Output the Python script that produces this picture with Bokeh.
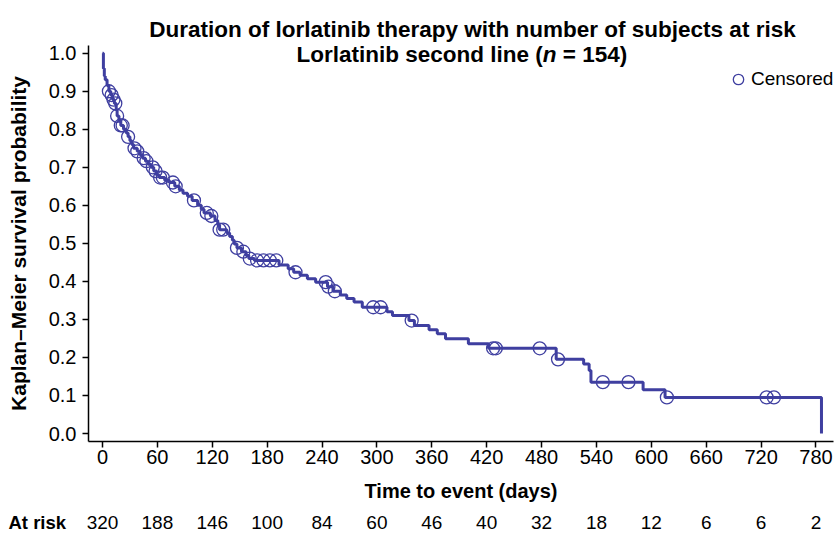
from bokeh.plotting import figure
from bokeh.models import (Range1d, FixedTicker, NumeralTickFormatter, Label, LabelSet,
                          ColumnDataSource, Legend, LegendItem)
from bokeh.core.properties import value
from bokeh.embed import file_html
from bokeh.resources import INLINE

# ---- data ----
step_days = [0, 1, 2, 3, 5, 7, 9, 11, 13, 15, 16, 18, 20, 23, 26, 28, 30, 32, 34, 38, 41, 44, 47,
             50, 53, 56, 59, 62, 68, 73, 79, 84, 88, 93, 98, 104, 108, 111, 118, 123, 126, 128,
             136, 139, 142, 144, 147, 152, 157, 160, 166, 193, 203, 209, 216, 224, 233, 246, 252,
             260, 267, 275, 284, 311, 317, 335, 341, 357, 366, 375, 400, 422, 496, 526, 532, 534,
             591, 615, 786]
step_surv = [1.0, 0.96, 0.94, 0.93, 0.915, 0.90, 0.89, 0.878, 0.868, 0.85, 0.835, 0.822, 0.81,
             0.80, 0.79, 0.78, 0.77, 0.76, 0.75, 0.742, 0.733, 0.724, 0.716, 0.708, 0.70, 0.69,
             0.68, 0.673, 0.666, 0.66, 0.65, 0.64, 0.632, 0.624, 0.613, 0.60, 0.59, 0.58, 0.572,
             0.56, 0.548, 0.536, 0.527, 0.518, 0.508, 0.498, 0.488, 0.478, 0.468, 0.46, 0.455,
             0.443, 0.433, 0.424, 0.416, 0.407, 0.398, 0.386, 0.374, 0.364, 0.355, 0.346, 0.332,
             0.32, 0.31, 0.297, 0.284, 0.273, 0.262, 0.249, 0.236, 0.224, 0.195, 0.183, 0.166,
             0.135, 0.115, 0.095, 0.0]

cens_days = [7, 10, 12, 14, 16, 20, 22, 28, 35, 38, 45, 48, 55, 58, 63, 66, 77, 80, 100, 114, 119,
             128, 132, 147, 154, 161, 169, 176, 183, 190, 211, 244, 247, 254, 296, 304, 338, 427,
             430, 478, 498, 547, 575, 617, 726, 734]
cens_surv = [0.90, 0.89, 0.878, 0.868, 0.835, 0.81, 0.81, 0.78, 0.75, 0.742, 0.724, 0.716, 0.70,
             0.69, 0.673, 0.673, 0.66, 0.65, 0.613, 0.58, 0.572, 0.536, 0.536, 0.488, 0.478, 0.46,
             0.455, 0.455, 0.455, 0.455, 0.424, 0.398, 0.386, 0.374, 0.332, 0.332, 0.297, 0.224,
             0.224, 0.224, 0.195, 0.135, 0.135, 0.095, 0.095, 0.095]

x_ticks = [0, 60, 120, 180, 240, 300, 360, 420, 480, 540, 600, 660, 720, 780]
at_risk = [320, 188, 146, 100, 84, 60, 46, 40, 32, 18, 12, 6, 6, 2]
y_ticks = [0.0, 0.1, 0.2, 0.3, 0.4, 0.5, 0.6, 0.7, 0.8, 0.9, 1.0]

COLOR = "#3F3FA0"
FONT = "Liberation Sans"
W, H = 840, 535

# frame covers the whole canvas; axes are pinned at fixed data locations
p = figure(width=W, height=H, output_backend="svg", toolbar_location=None,
           x_range=Range1d(-111.5, 806.8), y_range=Range1d(-0.2682, 1.1386),
           min_border=0)
p.outline_line_color = None
p.grid.visible = False
p.background_fill_color = "white"
p.border_fill_color = "white"

p.step(step_days, step_surv, mode="after", line_color=COLOR, line_width=3)
cens = p.scatter(cens_days, cens_surv, size=13, marker="circle", fill_color=None,
                 line_color=COLOR, line_width=1.3)

for ax in (p.xaxis[0], p.yaxis[0]):
    ax.axis_line_width = 1.5
    ax.axis_line_color = "black"
    ax.major_tick_line_width = 1.5
    ax.major_tick_line_color = "black"
    ax.major_tick_out = 6
    ax.major_tick_in = 0
    ax.minor_tick_line_color = None
    ax.major_label_text_font = FONT
    ax.major_label_text_font_size = "20px"
    ax.major_label_text_color = "black"
    ax.axis_label_text_font = FONT
    ax.axis_label_text_font_style = "bold"
    ax.axis_label_text_color = "black"

xa = p.xaxis[0]
xa.fixed_location = -0.021
xa.bounds = (-15.3, 799)
xa.ticker = FixedTicker(ticks=x_ticks)
xa.axis_label = "Time to event (days)"
xa.axis_label_text_font_size = "20px"
xa.major_label_standoff = 3
xa.axis_label_standoff = 12

ya = p.yaxis[0]
ya.fixed_location = -15.3
ya.bounds = (-0.021, 1.0202)
ya.ticker = FixedTicker(ticks=y_ticks)
ya.formatter = NumeralTickFormatter(format="0.0")
ya.axis_label = "Kaplan\u2013Meier survival probability"
ya.axis_label_text_font_size = "21px"
ya.major_label_standoff = 6
ya.axis_label_standoff = 16

# titles (screen y measured upward from the canvas bottom)
tkw = dict(x_units="screen", y_units="screen", text_baseline="alphabetic",
           text_font=FONT, text_font_size="22.5px", text_color="black")
p.add_layout(Label(x=472, y=H - 29, text="Duration of lorlatinib therapy with number of subjects at risk",
                   text_align="center", text_font_style="bold", **tkw))
p.add_layout(Label(x=296, y=H - 54, text="Lorlatinib second line (", text_align="left",
                   text_font_style="bold", **tkw))
p.add_layout(Label(x=542.3, y=H - 54, text="n", text_align="left",
                   text_font_style="bold italic", **tkw))
p.add_layout(Label(x=562.3, y=H - 54, text="= 154)", text_align="left",
                   text_font_style="bold", **tkw))

# at-risk row
risk_src = ColumnDataSource(dict(x=x_ticks, y=[H - 522] * len(x_ticks),
                                 t=[str(v) for v in at_risk]))
p.add_layout(LabelSet(x="x", y="y", text="t", source=risk_src, x_units="data",
                      y_units="screen", text_align="center", text_baseline="middle",
                      text_font=value(FONT), text_font_size=value("19px"),
                      text_color=value("black")))
p.add_layout(Label(x=8, y=H - 522, x_units="screen", y_units="screen", text="At risk",
                   text_align="left", text_baseline="middle", text_font=FONT,
                   text_font_size="18.5px", text_font_style="bold", text_color="black"))

legend = Legend(items=[LegendItem(label="Censored", renderers=[cens])],
                location=(725, H - 94), border_line_color=None, background_fill_alpha=0,
                padding=0, margin=0, glyph_width=26, glyph_height=30, label_standoff=0,
                label_text_font=FONT, label_text_font_size="19px", label_text_color="black")
p.add_layout(legend)

open("out.html", "w").write(file_html(p, INLINE))
